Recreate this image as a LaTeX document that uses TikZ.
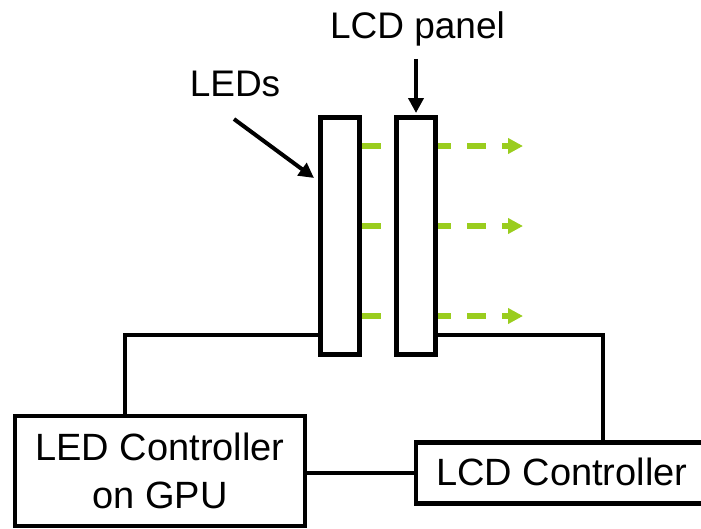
\documentclass[tikz,border=0pt]{standalone}
\usepackage{fontspec}
\setmainfont{Liberation Sans}
\usepackage{tikz}
\usetikzlibrary{positioning,arrows.meta}
\definecolor{luzVerde}{HTML}{9ACD1E}
\tikzset{
  panelbox/.style={draw, fill=white, line width=5pt, minimum width=39, minimum height=237, inner sep=0pt},
  ctrlbox/.style={draw, fill=white, line width=4.5pt, inner sep=0pt, font=\fontsize{38}{48}\selectfont},
  etiq/.style={inner sep=0pt, font=\fontsize{37}{44}\selectfont},
  ptr/.style={line width=4pt, -{Triangle[length=15pt,width=15pt]}},
  luz/.style={draw=luzVerde, line width=5.5pt, dash pattern=on 19pt off 16pt, -{Triangle[length=15pt,width=15pt]}}
}

\begin{document}
\begin{tikzpicture}[x=1pt, y=-1pt, line width=4pt]
    \useasboundingbox (0,0) rectangle (701,528);

    % Panel de LEDs y luz
    \node[panelbox] (ledpanel) at (340,236) {};
    \coordinate (luzfin) at (523,236);
    \foreach \dy in {90,10,-80}
        \draw[luz] ([yshift=\dy pt]ledpanel.east) -- ([yshift=\dy pt]luzfin);
    \node[panelbox, right=32pt of ledpanel] (lcdpanel) {};

    % Controladores
    \node[ctrlbox, minimum width=290, minimum height=110, align=center] (ledctrl) at (160,471) {LED Controller\\on GPU};
    \node[ctrlbox, minimum width=300, minimum height=61, text depth=2pt] (lcdctrl) at (565.75,472.75) {\hspace{-8pt}LCD Controller\hspace{8pt}};

    % Cables
    \coordinate (tapizq) at (125,335);
    \coordinate (tapder) at (603,335);
    \draw (ledpanel.west |- tapizq) -| (ledctrl.north -| tapizq);
    \draw (lcdpanel.east |- tapder) -| (lcdctrl.north -| tapder);
    \draw (ledctrl.east |- lcdctrl.west) -- (lcdctrl.west);

    % Etiquetas
    \node[etiq, anchor=base] (leds) at (235,96.7) {LEDs};
    \node[etiq, anchor=base] (lcdlabel) at (417.5,38.3) {LCD panel};
    \draw[ptr] ([xshift=-1pt,yshift=-20pt]leds.south) -- ([xshift=-4pt,yshift=58pt]ledpanel.west);
    \draw[ptr] ([yshift=-11pt]lcdpanel.north |- lcdlabel.south) -- ([yshift=2pt]lcdpanel.north);
\end{tikzpicture}
\end{document}
